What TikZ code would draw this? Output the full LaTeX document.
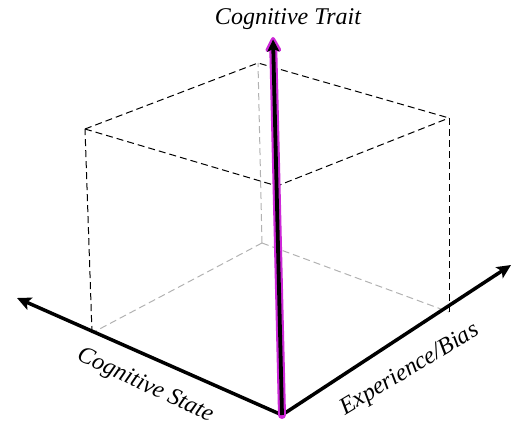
\documentclass[tikz,border=0pt]{standalone}
\usepackage{fontspec}
\setmainfont{Liberation Serif}
\usetikzlibrary{arrows.meta}
\definecolor{glow}{RGB}{205,40,215}
\begin{document}
\begin{tikzpicture}[x=1pt,y=-1pt,
  edge/.style={black,dashed,line width=1pt,dash pattern=on 7pt off 4pt},
  hidden/.style={gray!60,dashed,line width=1pt,dash pattern=on 7pt off 4pt},
  axis/.style={black,line width=3.5pt,-{Stealth[length=14pt,width=13pt,inset=3pt]}},
  lbl/.style={font=\fontsize{24}{28}\selectfont\itshape,inner sep=0pt}]
\useasboundingbox (0,0) rectangle (514,427);
% cube corners
\coordinate (FL) at (92,333);
\coordinate (FR) at (449,312);
\coordinate (BB) at (262,243);
\coordinate (TL) at (85,129);
\coordinate (TR) at (449,118);
\coordinate (TB) at (258,63);
\coordinate (TF) at (277,186);
\coordinate (O) at (282,415);
\coordinate (XL) at (17,298);
\coordinate (XR) at (511,265);
\coordinate (ZT) at (273,37);
% hidden edges
\draw[hidden] (BB) -- (FL);
\draw[hidden] (BB) -- (FR);
\draw[hidden] (BB) -- (TB);
% visible dashed edges
\draw[edge] (FL) -- (TL);
\draw[edge] (FR) -- (TR);
\draw[edge] (TL) -- (TB) -- (TR);
\draw[edge] (TL) -- (TF) -- (TR);
% axes
\draw[axis] (O) -- (XL);
\draw[axis] (O) -- (XR);
\draw[glow,line width=8pt,line cap=round,-{Stealth[length=18pt,width=19pt,inset=3pt,round]}] (O) -- (ZT);
\draw[black,line width=3.8pt,shorten >=2.5pt,-{Stealth[length=12pt,width=12pt,inset=2.5pt]}] (O) -- (ZT);
% labels
\node[lbl] (lt) at (288,19) {Cognitive Trait};
\node[lbl,rotate=-25] (ls) at (145,386) {Cognitive State};
\node[lbl,rotate=31] (le) at (410,370) {Experience/Bias};
\end{tikzpicture}
\end{document}
